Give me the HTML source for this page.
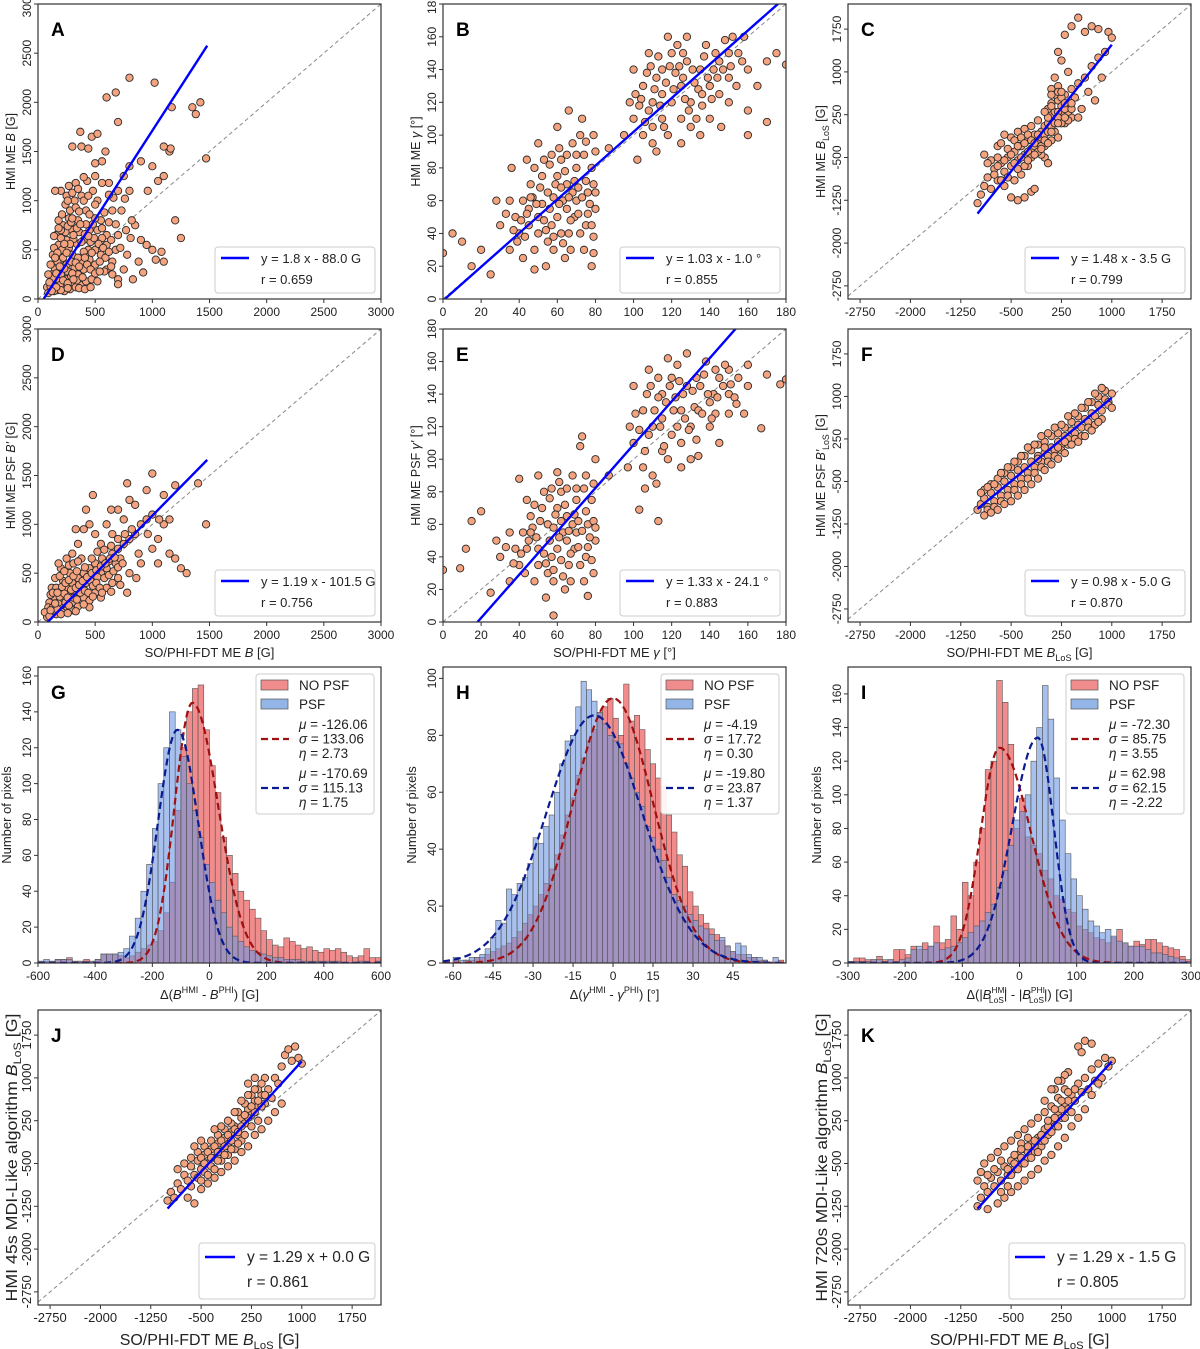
<!DOCTYPE html>
<html><head><meta charset="utf-8">
<style>
html,body{margin:0;padding:0;background:#fff;}
svg{display:block;font-family:"Liberation Sans",Arial,sans-serif;}
</style></head>
<body>
<svg id="fig" width="1200" height="1349" viewBox="0 0 1200 1349" xmlns="http://www.w3.org/2000/svg"></svg>
<script>
// ---------- DATA ----------
const scatterA=[[100,100],[150,150],[200,120],[250,200],[300,150],[350,250],[150,300],[200,400],[250,350],[300,450],[400,300],[450,400],[500,350],[180,550],[250,600],[300,700],[350,800],[400,600],[450,700],[500,500],[550,450],[600,300],[650,250],[700,200],[120,250],[130,450],[160,650],[220,750],[280,900],[320,1000],[380,1050],[420,900],[480,1100],[520,1000],[550,800],[600,650],[650,900],[700,1100],[750,1250],[800,1100],[850,750],[900,600],[950,550],[1000,500],[1050,1200],[1100,1250],[1150,1500],[1200,800],[1250,620],[1000,1350],[900,1400],[800,1350],[700,1800],[600,2050],[680,2100],[800,2250],[1020,2200],[1350,1950],[1420,2000],[1170,1950],[1470,1430],[370,1700],[470,1650],[520,1680],[300,1550],[380,1550],[440,1530],[590,1500],[560,1400],[500,1380],[1100,380],[1030,400],[830,200],[700,150],[750,300],[600,550],[200,1100],[250,1050],[300,1080],[430,1200],[1080,480],[1160,1530],[920,270],[140,640],[80,120],[120,180],[170,90],[230,80],[280,100],[330,120],[380,140],[420,180],[470,200],[520,180],[200,250],[260,280],[320,320],[380,380],[440,500],[160,200],[110,350],[210,500],[270,520],[340,560],[400,480],[460,580],[560,620],[180,800],[240,680],[360,680],[420,760],[520,700],[620,780],[700,650],[90,60],[140,80],[190,180],[240,140],[290,230],[340,190],[390,220],[230,310],[170,380],[290,380],[350,420],[200,620],[310,610],[270,820],[400,1000],[240,960],[330,930],[660,1030],[620,1180],[760,1020],[810,620],[880,380],[960,1100],[1100,1550],[1380,1880],[150,1100],[330,1180],
[110,130],[130,210],[160,260],[190,330],[220,420],[250,470],[280,560],[310,650],[340,720],[370,760],[190,140],[220,190],[260,160],[300,260],[330,370],[360,330],[410,420],[430,350],[470,470],[490,620],[530,560],[570,520],[590,420],[620,480],[650,380],[680,500],[140,520],[170,470],[200,700],[230,560],[260,740],[290,780],[380,580],[410,660],[440,640],[480,760],[500,820],[540,380],[580,280],[640,330],[460,300],[500,260],[540,280],[360,110],[410,100],[460,120],[200,90],[260,110],[310,200],[160,120],[120,80],[100,170],[90,250],[150,420],[180,720],[210,860],[260,1000],[300,820],[360,890],[450,860],[500,960],[580,880],[620,1060],[680,760],[730,900],[770,700],[820,800],[720,520],[780,450],[640,600],[560,720],[440,1050],[350,1120],[270,1150],[400,1240],[500,1250],[560,1180]];
const scatterD=[[80,50],[120,100],[160,80],[200,150],[250,120],[300,200],[350,160],[400,250],[450,220],[500,300],[100,200],[150,250],[200,300],[250,350],[300,400],[350,450],[400,500],[450,550],[500,600],[550,500],[600,550],[650,700],[700,750],[750,800],[800,850],[850,900],[900,1000],[950,1050],[1000,1100],[1050,850],[1100,1000],[1150,700],[1200,650],[1250,550],[1000,1520],[1200,1400],[1470,1000],[1400,1420],[1100,1300],[950,1350],[800,1250],[700,1150],[600,1000],[500,900],[450,1000],[400,950],[350,800],[300,700],[250,650],[200,550],[150,450],[120,350],[600,350],[700,450],[800,500],[900,600],[1000,750],[550,800],[650,900],[750,1050],[850,1200],[480,1300],[330,950],[180,600],[90,150],[140,120],[180,200],[230,230],[280,280],[320,300],[380,350],[420,400],[460,420],[520,460],[560,650],[620,620],[680,600],[720,650],[380,650],[280,500],[220,420],[160,350],[110,280],[60,100],[300,120],[450,150],[550,250],[650,400],[780,300],[880,700],[1050,600],[1300,500],[1150,1050],[780,1420],[640,1150],[420,1150],
[100,60],[130,150],[170,130],[210,100],[240,200],[270,170],[310,250],[340,230],[370,300],[410,320],[440,300],[480,370],[510,400],[540,350],[580,450],[620,480],[660,520],[700,560],[740,600],[110,120],[150,190],[190,260],[230,290],[260,250],[290,330],[330,350],[360,380],[390,420],[430,460],[470,500],[510,530],[550,570],[590,600],[630,650],[670,660],[130,300],[170,300],[210,360],[240,400],[270,430],[310,470],[340,520],[190,470],[230,520],[270,580],[310,600],[350,620],[410,560],[470,650],[520,720],[580,740],[640,780],[700,850],[760,900],[820,950],[200,80],[260,90],[330,110],[400,180],[480,260],[560,300],[640,310],[720,380],[860,450],[960,900],[1060,1050]];
const scatterB=[[45,55],[50,40],[55,65],[60,50],[65,70],[70,60],[75,45],[78,80],[62,85],[58,30],[52,75],[48,30],[40,40],[42,60],[68,95],[72,100],[76,65],[80,55],[66,40],[56,55],[60,75],[70,80],[74,30],[64,25],[54,20],[46,70],[38,50],[35,30],[30,45],[28,60],[20,30],[15,20],[10,35],[5,40],[0,28],[25,15],[50,95],[60,105],[73,110],[66,115],[80,90],[78,20],[44,85],[57,45],[63,60],[69,50],[75,72],[79,38],[35,60],[50,50],[55,35],[45,45],[65,55],[72,40],[100,110],[105,130],[110,120],[115,140],[120,150],[125,130],[130,120],[135,140],[140,130],[145,145],[150,150],[105,100],[110,95],[115,110],[120,120],[125,110],[130,105],[100,140],[108,150],[118,160],[128,160],[138,155],[148,158],[155,150],[160,140],[165,130],[170,145],[140,110],[145,125],[150,135],[135,100],[125,95],[112,90],[102,85],[160,115],[175,150],[180,143],[158,160],[115,125],[122,138],[132,132],[142,140],[128,145],[118,100],[108,115],[95,100],[98,120],[87,92],[150,120],[160,100],[170,108],[62,40],[68,65],[74,88],[58,62],[52,58],[48,18],[42,25],[36,80],[112,135],[126,150],[104,122],[136,118],[146,105],[152,160],[110,105],
[47,62],[53,48],[59,70],[61,58],[67,48],[71,68],[77,58],[79,70],[64,78],[56,82],[51,68],[44,52],[41,48],[39,35],[43,38],[49,58],[54,42],[58,38],[63,34],[67,30],[71,52],[73,62],[76,52],[78,45],[69,72],[65,88],[61,92],[57,88],[53,85],[48,80],[46,62],[37,42],[33,52],[66,62],[62,68],[70,88],[75,96],[79,100],[80,65],[79,28],[103,118],[107,138],[111,128],[114,118],[117,132],[121,128],[124,142],[127,122],[131,140],[134,128],[137,148],[141,122],[144,135],[147,140],[113,148],[119,142],[123,155],[133,110],[129,115],[116,105],[106,108],[101,125],[139,135],[143,150],[151,142],[154,130],[157,145],[126,135],[136,125],[109,142]];
const scatterE=[[45,50],[50,35],[55,60],[60,45],[65,65],[70,55],[75,40],[78,75],[62,80],[58,25],[52,70],[48,25],[40,35],[42,55],[68,90],[72,108],[76,60],[80,50],[66,35],[56,50],[60,70],[70,75],[74,25],[64,20],[54,15],[46,65],[38,45],[35,25],[30,40],[28,50],[20,68],[15,62],[12,45],[9,33],[0,32],[25,18],[50,90],[60,92],[73,114],[40,88],[80,100],[76,16],[44,75],[57,40],[63,55],[69,45],[75,68],[79,30],[35,55],[50,45],[55,30],[58,4],[65,50],[72,35],[100,110],[105,130],[110,120],[115,140],[120,150],[125,130],[130,120],[135,145],[140,135],[145,150],[150,155],[105,95],[110,90],[115,105],[120,115],[125,110],[130,100],[100,145],[108,155],[118,162],[128,165],[138,160],[148,158],[155,150],[160,145],[158,128],[170,152],[140,120],[145,110],[150,140],[134,102],[125,95],[112,85],[103,69],[113,62],[167,119],[177,146],[180,149],[160,158],[115,125],[122,138],[132,132],[142,140],[128,145],[118,100],[108,115],[97,95],[98,120],[87,90],[150,128],[106,82],[113,138],[123,120],[133,150],[143,128],[153,138],[62,38],[68,60],[74,82],[58,58],
[47,58],[53,42],[59,66],[61,52],[67,42],[71,62],[77,52],[79,62],[64,72],[56,76],[51,62],[44,45],[41,42],[43,30],[49,52],[54,36],[58,32],[63,28],[67,25],[71,46],[73,56],[76,46],[78,38],[69,66],[65,82],[61,86],[57,82],[53,80],[48,72],[46,55],[37,36],[33,46],[66,56],[62,62],[70,82],[75,90],[79,85],[80,58],[103,118],[107,140],[111,130],[114,120],[117,135],[121,130],[124,148],[127,125],[131,142],[134,130],[137,152],[141,125],[144,138],[147,145],[113,150],[119,145],[123,158],[133,112],[129,118],[116,108],[106,105],[101,128],[139,140],[143,155],[151,146],[154,134],[126,140],[136,128],[109,145]];
const scatterC=[[-1000,-1300],[-950,-1150],[-900,-1000],[-850,-850],[-800,-1050],[-750,-700],[-700,-900],[-650,-600],[-600,-750],[-550,-500],[-500,-650],[-450,-400],[-400,-550],[-350,-300],[-300,-450],[-250,-200],[-200,-350],[-150,-100],[-100,-250],[-50,-50],[0,50],[50,100],[100,250],[150,300],[200,500],[250,400],[300,600],[350,450],[400,700],[450,550],[500,800],[550,350],[600,900],[650,650],[700,1100],[750,500],[800,1250],[850,900],[900,1350],[950,1700],[1000,1600],[400,1800],[500,1950],[600,1700],[700,1800],[800,1750],[300,1650],[200,1350],[250,1200],[350,1000],[150,900],[100,700],[-300,-1200],[-400,-1250],[-200,-1100],[-150,-1050],[-500,-1200],[-600,-1000],[-700,-500],[-800,-550],[-850,-600],[-600,-100],[-500,-150],[-400,-50],[-300,0],[-200,50],[-100,150],[0,-500],[50,-600],[0,-300],[-50,-450],[100,-200],[150,-50],[200,-150],[300,100],[400,200],[500,200],[-900,-450],[-700,-300],[-650,-250],[-250,-650],[-350,-800],[-450,-900],[100,450],[150,600],[200,750],[-50,-150],[-150,-300],[-250,-400],[50,350],[250,250],[350,300],
[-450,-200],[-400,-300],[-350,-150],[-300,-250],[-250,-100],[-200,-200],[-150,-250],[-100,-100],[-50,-300],[0,-100],[50,-50],[100,50],[150,150],[200,300],[250,100],[300,350],[350,150],[400,350],[-550,-350],[-500,-450],[-450,-600],[-400,-700],[-300,-650],[-200,-500],[-100,-400],[0,-200],[50,-250],[100,-50],[150,100],[200,200],[250,550],[300,450],[-350,-500],[-250,-550],[-150,-450],[-50,-350],[50,200],[100,600],[200,650],[300,200],[400,450],[-600,-550],[-700,-650],[-750,-800],[-650,-900],[-550,-850],[0,300],[100,400],[200,100],[250,650]];
const scatterF=[[-1000,-1000],[-950,-900],[-900,-800],[-850,-950],[-800,-700],[-750,-850],[-700,-600],[-650,-750],[-600,-500],[-550,-650],[-500,-400],[-450,-550],[-400,-300],[-350,-450],[-300,-250],[-250,-350],[-200,-150],[-150,-250],[-100,-50],[-50,-150],[0,0],[50,-50],[100,100],[150,50],[200,200],[250,150],[300,300],[350,250],[400,400],[450,350],[500,500],[550,450],[600,600],[650,550],[700,700],[750,650],[800,850],[850,750],[900,950],[950,900],[1000,1050],[-900,-650],[-800,-550],[-700,-450],[-600,-350],[-500,-250],[-400,-150],[-300,-50],[-200,50],[-100,150],[0,200],[100,300],[200,350],[300,450],[400,550],[500,650],[600,800],[700,900],[800,1000],[-850,-1000],[-750,-950],[-650,-850],[-550,-750],[-450,-650],[-350,-550],[-250,-450],[-150,-350],[-50,-250],[50,-150],[150,-50],[250,50],[350,150],[450,250],[550,300],[650,450],[750,500],[850,600],[950,850],[900,1100],[-100,-100],[0,100],[200,100],[300,200],
[-950,-700],[-850,-600],[-750,-550],[-650,-350],[-550,-250],[-450,-150],[-350,-50],[-250,100],[-150,150],[-50,300],[50,350],[150,450],[250,500],[350,650],[450,700],[550,800],[650,900],[750,1050],[850,1150],[-900,-1100],[-800,-1050],[-700,-1000],[-600,-900],[-500,-850],[-400,-750],[-300,-650],[-200,-550],[-100,-450],[0,-300],[100,-200],[200,-100],[300,0],[400,150],[500,200],[600,300],[700,400],[800,550],[1000,800]];
const scatterJ=[[-1000,-1150],[-950,-1000],[-900,-1100],[-850,-850],[-800,-950],[-750,-700],[-700,-800],[-650,-550],[-600,-700],[-550,-450],[-500,-600],[-450,-350],[-400,-500],[-350,-250],[-300,-400],[-250,-150],[-200,-300],[-150,-50],[-100,-200],[-50,50],[0,150],[50,0],[100,300],[150,200],[200,450],[250,350],[300,600],[350,500],[400,700],[450,550],[500,800],[550,650],[600,1000],[650,900],[700,1200],[750,1400],[800,1500],[850,1300],[900,1550],[950,1350],[1000,1250],[-850,-600],[-750,-500],[-650,-400],[-550,-300],[-450,-200],[-350,-100],[-250,0],[-150,100],[-50,200],[50,400],[150,550],[250,700],[350,800],[450,1000],[-700,-1100],[-600,-1200],[-500,-950],[-400,-850],[-300,-750],[-200,-650],[-100,-550],[0,-450],[100,-300],[200,-200],[300,0],[400,100],[500,250],[600,400],[700,550],[-600,-200],[-500,-100],[-300,100],[200,900],[300,1000],[400,900],[-200,-450],[-100,-350],[0,-250],[100,-100],
[-550,-750],[-450,-650],[-350,-550],[-250,-450],[-150,-350],[-50,-250],[50,-150],[150,0],[250,150],[350,250],[-500,-400],[-400,-300],[-300,-200],[-200,-100],[-100,0],[0,100],[100,150],[200,300],[300,400],[400,500],[-450,-500],[-350,-400],[-250,-300],[-150,-200],[-50,-100],[50,50],[150,350],[250,500],[350,600],[450,700],[100,600],[200,700],[300,800],[0,400],[-100,250],[-200,150],[-300,-600],[-400,-700],[-500,-800],[-650,-900]];
const scatterK=[[-1000,-1250],[-950,-1100],[-900,-900],[-850,-1000],[-800,-750],[-750,-900],[-700,-650],[-650,-800],[-600,-550],[-550,-700],[-500,-450],[-450,-600],[-400,-350],[-350,-500],[-300,-250],[-250,-400],[-200,-150],[-150,-300],[-100,-50],[-50,-200],[0,100],[50,0],[100,250],[150,150],[200,400],[250,300],[300,550],[350,450],[400,700],[450,600],[500,900],[550,750],[600,1000],[650,800],[700,1150],[750,950],[800,1250],[850,1000],[900,1350],[950,1200],[1000,1300],[500,1550],[550,1450],[600,1650],[700,1600],[350,1100],[300,1050],[-900,-500],[-800,-400],[-700,-300],[-600,-200],[-500,-100],[-400,0],[-300,100],[-200,200],[-100,300],[0,400],[100,500],[200,650],[300,800],[-850,-1300],[-700,-1200],[-600,-1100],[-500,-1000],[-400,-900],[-300,-800],[-200,-700],[-100,-600],[0,-450],[100,-350],[200,-200],[300,-50],[400,150],[500,300],[600,450],[700,700],[800,900],[-1000,-800],[-950,-650],[150,800],[250,950],[-350,-150],[-250,-50],
[-550,-600],[-450,-500],[-350,-400],[-250,-300],[-150,-200],[-50,-100],[50,150],[150,300],[250,450],[350,600],[-500,-700],[-400,-600],[-300,-500],[-200,-400],[-100,-300],[0,-100],[100,50],[200,150],[300,300],[400,400],[-450,-350],[-350,-250],[-250,-200],[-150,-100],[-50,0],[50,250],[150,450],[250,600],[350,750],[450,800],[-650,-450],[-750,-600],[-850,-700],[-650,-1000],[-550,-900],[100,800],[200,950],[0,600]];

// fit lines: [slope, intercept, xStart, xEnd]
const fitA=[1.8,-88.0,50,1480], fitB=[1.03,-1.0,0,180], fitC=[1.48,-3.5,-1000,1000];
const fitD=[1.19,-101.5,50,1480], fitE=[1.33,-24.1,17,180], fitF=[0.98,-5.0,-1000,1000];
const fitJ=[1.29,0.0,-1000,1000], fitK=[1.29,-1.5,-1000,1000];

// histograms: bin start, bin width, counts
const histGStart=-600, histGWidth=20;
const histGRed=[1,1,1,2,2,3,1,1,2,1,2,5,5,5,4,3,4,6,8,10,12,18,28,45,85,120,140,153,155,130,110,95,70,60,50,40,35,30,25,18,13,10,9,14,12,10,8,9,7,6,8,7,8,6,4,3,4,8,3,3];
const histGBlue=[1,2,1,2,2,2,1,1,1,1,2,5,5,5,6,8,15,25,40,55,75,100,120,140,130,115,100,85,70,55,45,35,28,20,15,12,9,7,6,5,4,3,3,2,2,2,1,1,1,1,1,1,1,0,0,0,1,1,0,1];
const histHStart=-62, histHWidth=2;
const histHRed=[0,1,0,1,1,2,2,3,4,5,6,7,9,11,14,17,20,24,28,33,38,45,52,58,66,72,78,82,88,90,93,86,80,98,85,87,82,75,70,65,62,52,46,38,34,25,20,17,14,12,10,8,6,4,3,3,2,2,1,1,0,0,1];
const histHBlue=[0,2,1,1,2,2,3,5,9,15,14,26,24,28,30,35,44,42,48,52,60,70,78,80,90,99,96,92,88,84,80,78,77,70,65,60,55,48,44,40,36,30,24,22,20,17,15,13,12,10,8,9,6,4,7,6,3,2,2,1,0,2,0];
const histIStart=-300, histIWidth=10;
const histIRed=[1,3,3,2,2,4,2,2,8,8,5,10,8,12,10,22,12,14,28,20,48,40,60,80,115,120,168,155,130,80,98,75,70,65,55,50,40,38,32,30,22,20,18,15,14,12,15,20,12,10,13,11,14,14,12,10,9,8,4,2];
const histIBlue=[1,1,1,1,2,2,1,2,1,2,3,8,10,8,10,12,8,9,10,12,15,18,22,25,30,35,45,55,70,85,90,100,120,140,165,145,110,85,65,50,40,32,25,22,18,20,16,13,12,10,10,10,8,6,6,5,4,3,2,1];
// fitted curves: [center, amplitude, sigmaLeft, sigmaRight]
const curveGRed=[-60,145,62,90], curveGBlue=[-112,130,68,72];
const curveHRed=[0,93,15,15], curveHBlue=[-7,87,18,18];
const curveIRed=[-35,128,33,55], curveIBlue=[32,134,45,28];

// ---------- HELPERS ----------
const NS="http://www.w3.org/2000/svg";
const svg=document.getElementById('fig');
function mk(tag,parent,attrs){const e=document.createElementNS(NS,tag);for(const k in attrs)e.setAttribute(k,attrs[k]);(parent||svg).appendChild(e);return e;}
const C1=[38,381],C2=[443,786],C3=[848,1191];
const R1=[4,299],R2=[329,622],R3=[667,963],R4=[1010,1305];
function panel(name,cols,rows,x0,x1,y0,y1){return {name,l:cols[0],r:cols[1],t:rows[0],b:rows[1],x0,x1,y0,y1};}
function sx(p,v){return p.l+(v-p.x0)/(p.x1-p.x0)*(p.r-p.l);}
function sy(p,v){return p.b-(v-p.y0)/(p.y1-p.y0)*(p.b-p.t);}

function frame(p){
  const g=mk('g');
  
  
  p.g=g;
  const cp=mk('clipPath',g,{id:'clip'+p.name});
  mk('rect',cp,{x:p.l,y:p.t,width:p.r-p.l,height:p.b-p.t});
  p.plot=mk('g',g,{'clip-path':'url(#clip'+p.name+')'});
  return g;
}
function border(p,letter){
  const r=mk('rect',p.g,{x:p.l,y:p.t,width:p.r-p.l,height:p.b-p.t,fill:'none',stroke:'#333','stroke-width':1.2});
  
  
  const t=mk('text',p.g,{x:p.l+13,y:p.t+32,'font-size':19,'font-weight':'bold',fill:'#000'});
  t.textContent=letter;
  
  
}
function ticks(p,xt,yt,xlabFmt,fs){
  fs=fs||12;
  const gx=mk('g',p.g);
  
  
  xt.forEach(v=>{const x=sx(p,v);mk('line',gx,{x1:x,x2:x,y1:p.b,y2:p.b+4,stroke:'#333'});
    const t=mk('text',gx,{x:x,y:p.b+17,'font-size':fs,'text-anchor':'middle',fill:'#222'});t.textContent=v;});
  const gy=mk('g',p.g);
  
  
  yt.forEach(v=>{const y=sy(p,v);mk('line',gy,{x1:p.l-4,x2:p.l,y1:y,y2:y,stroke:'#333'});
    const t=mk('text',gy,{x:0,y:0,'font-size':fs,'text-anchor':'middle',fill:'#222',transform:`translate(${p.l-7},${y}) rotate(-90)`});t.textContent=v;});
}
function ylabel(p,html,fs,dx,len){
  const at={'font-size':fs,'text-anchor':'middle',fill:'#222',transform:`translate(${p.l-(dx||22)},${(p.t+p.b)/2}) rotate(-90)`};
  if(len){at.textLength=len;at.lengthAdjust='spacingAndGlyphs';}
  const t=mk('text',p.g,at);
  t.innerHTML=html;
  
  
}
function xlabel(p,html,fs,dy){
  const t=mk('text',p.g,{x:(p.l+p.r)/2,y:p.b+(dy||37),'font-size':fs,'text-anchor':'middle',fill:'#222'});
  t.innerHTML=html;
  
  
}
function diag(p){
  const a=Math.max(p.x0,p.y0),b=Math.min(p.x1,p.y1);
  const l=mk('line',p.plot,{x1:sx(p,a),y1:sy(p,a),x2:sx(p,b),y2:sy(p,b),stroke:'#888','stroke-width':1,'stroke-dasharray':'4,3'});
  
  
}
function points(p,data){
  const g=mk('g',p.plot);
  
  
  data.forEach(d=>{const c=mk('circle',g,{cx:sx(p,d[0]),cy:sy(p,d[1]),r:3.7,fill:'#f5a37e',stroke:'#2a2a2a','stroke-width':0.9});
    
    });
}
function fit(p,f){
  const l=mk('line',p.plot,{x1:sx(p,f[2]),y1:sy(p,f[0]*f[2]+f[1]),x2:sx(p,f[3]),y2:sy(p,f[0]*f[3]+f[1]),stroke:'#0000ff','stroke-width':2.4});
  
  
}
function legendScatter(p,eq,r,big){
  const fs=big?15.5:13;
  const w=big?176:160,h=big?56:46;
  const x=p.r-w-6,y=p.b-h-6;
  const g=mk('g',p.g);
  
  
  mk('rect',g,{x:x,y:y,width:w,height:h,rx:3,fill:'#fff',stroke:'#ccc','stroke-width':1});
  const ly=y+(big?14:11);
  mk('line',g,{x1:x+6,x2:x+(big?36:34),y1:ly,y2:ly,stroke:'#0000ff','stroke-width':2.4});
  const t1=mk('text',g,{x:x+(big?48:46),y:ly+5,'font-size':fs,fill:'#222'});t1.textContent=eq;
  
  
  const t2=mk('text',g,{x:x+(big?48:46),y:ly+(big?30:26),'font-size':fs,fill:'#222'});t2.textContent=r;
  
  
}
function bars(p,start,w,counts,fill,name){
  const g=mk('g',p.plot);
  
  
  counts.forEach((c,i)=>{const x0=sx(p,start+i*w),x1=sx(p,start+(i+1)*w);
    const rc=mk('rect',g,{x:x0,y:sy(p,c),width:Math.max(0,x1-x0),height:sy(p,0)-sy(p,c),fill:fill,stroke:'#555','stroke-width':0.6});
    
    });
}
function curve(p,cv,color,name){
  let d='';const n=300;
  for(let i=0;i<=n;i++){const v=p.x0+(p.x1-p.x0)*i/n;const s=v<cv[0]?cv[2]:cv[3];
    const y=cv[1]*Math.exp(-0.5*((v-cv[0])/s)**2);d+=(i?'L':'M')+sx(p,v).toFixed(1)+','+sy(p,y).toFixed(1);}
  const pa=mk('path',p.plot,{d:d,fill:'none',stroke:color,'stroke-width':2.2,'stroke-dasharray':'7,4'});
  
  
}
function legendHist(p,red,blue){
  const w=118,h=140,x=p.r-w-7,y=p.t+7;
  const g=mk('g',p.g);
  
  
  mk('rect',g,{x:x,y:y,width:w,height:h,rx:3,fill:'#fff','fill-opacity':0.9,stroke:'#ccc'});
  mk('rect',g,{x:x+5,y:y+6,width:27,height:10,fill:'#f08c8c',stroke:'#555','stroke-width':0.7});
  const a=mk('text',g,{x:x+43,y:y+16,'font-size':13.5,fill:'#222'});a.textContent='NO PSF';
  
  mk('rect',g,{x:x+5,y:y+25,width:27,height:10,fill:'#94b5e8',stroke:'#555','stroke-width':0.7});
  const b=mk('text',g,{x:x+43,y:y+35,'font-size':13.5,fill:'#222'});b.textContent='PSF';
  
  [[red,'#a01010',0],[blue,'#0a1a90',49]].forEach(([vals,col,off])=>{
    mk('line',g,{x1:x+5,x2:x+33,y1:y+65+off,y2:y+65+off,stroke:col,'stroke-width':2.2,'stroke-dasharray':'7,4'});
    ['μ','σ','η'].forEach((s,k)=>{const t=mk('text',g,{x:x+43,y:y+55+off+k*14.5,'font-size':13.5,fill:'#222'});
      t.innerHTML=`<tspan font-style="italic">${s}</tspan> = ${vals[k]}`;
      });
  });
}

// ---------- BUILD ----------
const bT=[0,500,1000,1500,2000,2500,3000];
const gT=[0,20,40,60,80,100,120,140,160,180];
const lT=[-2750,-2000,-1250,-500,250,1000,1750];
const LX0=-2930,LX1=2180,LY0=-2980,LY1=2190;
const phiB='SO/PHI-FDT ME <tspan font-style="italic">B</tspan> [G]';
const phiG='SO/PHI-FDT ME <tspan font-style="italic">γ</tspan> [°]';
const phiL='SO/PHI-FDT ME <tspan font-style="italic">B</tspan><tspan font-size="0.7em" dy="4">LoS</tspan><tspan dy="-4"> [G]</tspan>';

function scatterPanel(name,cols,rows,xr,yr,xt,yt,data,f,eq,r,ylab,xlab,big){
  const p=panel(name,cols,rows,xr[0],xr[1],yr[0],yr[1]);
  frame(p);diag(p);points(p,data);fit(p,f);border(p,name);
  ticks(p,xt,yt,null,big?13:12);
  legendScatter(p,eq,r,big);
  if(big) ylabel(p,ylab,15.5,21,288); else ylabel(p,ylab,12.5,23);
  if(xlab)xlabel(p,xlab,big?16:13,big?40:35);
}
scatterPanel('A',C1,R1,[0,3000],[0,3000],bT,bT,scatterA,fitA,'y = 1.8 x - 88.0 G','r = 0.659','HMI ME <tspan font-style="italic">B</tspan> [G]');
scatterPanel('B',C2,R1,[0,180],[0,180],gT,gT,scatterB,fitB,'y = 1.03 x - 1.0 °','r = 0.855','HMI ME <tspan font-style="italic">γ</tspan> [°]');
scatterPanel('C',C3,R1,[LX0,LX1],[LY0,LY1],lT,lT,scatterC,fitC,'y = 1.48 x - 3.5 G','r = 0.799','HMI ME <tspan font-style="italic">B</tspan><tspan font-size="0.7em" dy="4">LoS</tspan><tspan dy="-4"> [G]</tspan>');
scatterPanel('D',C1,R2,[0,3000],[0,3000],bT,bT,scatterD,fitD,'y = 1.19 x - 101.5 G','r = 0.756','HMI ME PSF <tspan font-style="italic">B′</tspan> [G]',phiB);
scatterPanel('E',C2,R2,[0,180],[0,180],gT,gT,scatterE,fitE,'y = 1.33 x - 24.1 °','r = 0.883','HMI ME PSF <tspan font-style="italic">γ′</tspan> [°]',phiG);
scatterPanel('F',C3,R2,[LX0,LX1],[LY0,LY1],lT,lT,scatterF,fitF,'y = 0.98 x - 5.0 G','r = 0.870','HMI ME PSF <tspan font-style="italic">B′</tspan><tspan font-size="0.7em" dy="4">LoS</tspan><tspan dy="-4"> [G]</tspan>',phiL);
scatterPanel('J',C1,R4,[LX0,LX1],[LY0,LY1],lT,lT,scatterJ,fitJ,'y = 1.29 x + 0.0 G','r = 0.861','HMI 45s MDI-Like algorithm <tspan font-style="italic">B</tspan><tspan font-size="0.7em" dy="4">LoS</tspan><tspan dy="-4"> [G]</tspan>',phiL,true);
scatterPanel('K',C3,R4,[LX0,LX1],[LY0,LY1],lT,lT,scatterK,fitK,'y = 1.29 x - 1.5 G','r = 0.805','HMI 720s MDI-Like algorithm <tspan font-style="italic">B</tspan><tspan font-size="0.7em" dy="4">LoS</tspan><tspan dy="-4"> [G]</tspan>',phiL,true);

function histPanel(name,cols,xr,yr,xt,yt,start,w,red,blue,cr,cb,lr,lb,xlab){
  const p=panel(name,cols,R3,xr[0],xr[1],yr[0],yr[1]);
  frame(p);
  bars(p,start,w,red,'rgba(240,120,120,0.85)','hist-no-psf');
  bars(p,start,w,blue,'rgba(110,150,225,0.6)','hist-psf');
  curve(p,cr,'#a01010','fit-curve-no-psf');
  curve(p,cb,'#0a1a90','fit-curve-psf');
  border(p,name);ticks(p,xt,yt);
  legendHist(p,lr,lb);
  ylabel(p,'Number of pixels',13,27);
  xlabel(p,xlab,13,36);
}
histPanel('G',C1,[-600,600],[0,165],[-600,-400,-200,0,200,400,600],[0,20,40,60,80,100,120,140,160],histGStart,histGWidth,histGRed,histGBlue,curveGRed,curveGBlue,['-126.06','133.06','2.73'],['-170.69','115.13','1.75'],'Δ(<tspan font-style="italic">B</tspan><tspan font-size="0.7em" dy="-6">HMI</tspan><tspan dy="6"> - </tspan><tspan font-style="italic">B</tspan><tspan font-size="0.7em" dy="-6">PHI</tspan><tspan dy="6">) [G]</tspan>');
histPanel('H',C2,[-63.8,64.9],[0,104],[-60,-45,-30,-15,0,15,30,45],[0,20,40,60,80,100],histHStart,histHWidth,histHRed,histHBlue,curveHRed,curveHBlue,['-4.19','17.72','0.30'],['-19.80','23.87','1.37'],'Δ(<tspan font-style="italic">γ</tspan><tspan font-size="0.7em" dy="-6">HMI</tspan><tspan dy="6"> - </tspan><tspan font-style="italic">γ</tspan><tspan font-size="0.7em" dy="-6">PHI</tspan><tspan dy="6">) [°]</tspan>');
histPanel('I',C3,[-300,300],[0,176],[-300,-200,-100,0,100,200,300],[0,20,40,60,80,100,120,140,160],histIStart,histIWidth,histIRed,histIBlue,curveIRed,curveIBlue,['-72.30','85.75','3.55'],['62.98','62.15','-2.22'],'Δ(|<tspan font-style="italic">B</tspan><tspan font-size="0.65em" dy="-6">HMI</tspan><tspan font-size="0.65em" dx="-18" dy="10">LoS</tspan><tspan dy="-4">| - |</tspan><tspan font-style="italic">B</tspan><tspan font-size="0.65em" dy="-6">PHI</tspan><tspan font-size="0.65em" dx="-16" dy="10">LoS</tspan><tspan dy="-4">|) [G]</tspan>');
</script>
</body></html>
